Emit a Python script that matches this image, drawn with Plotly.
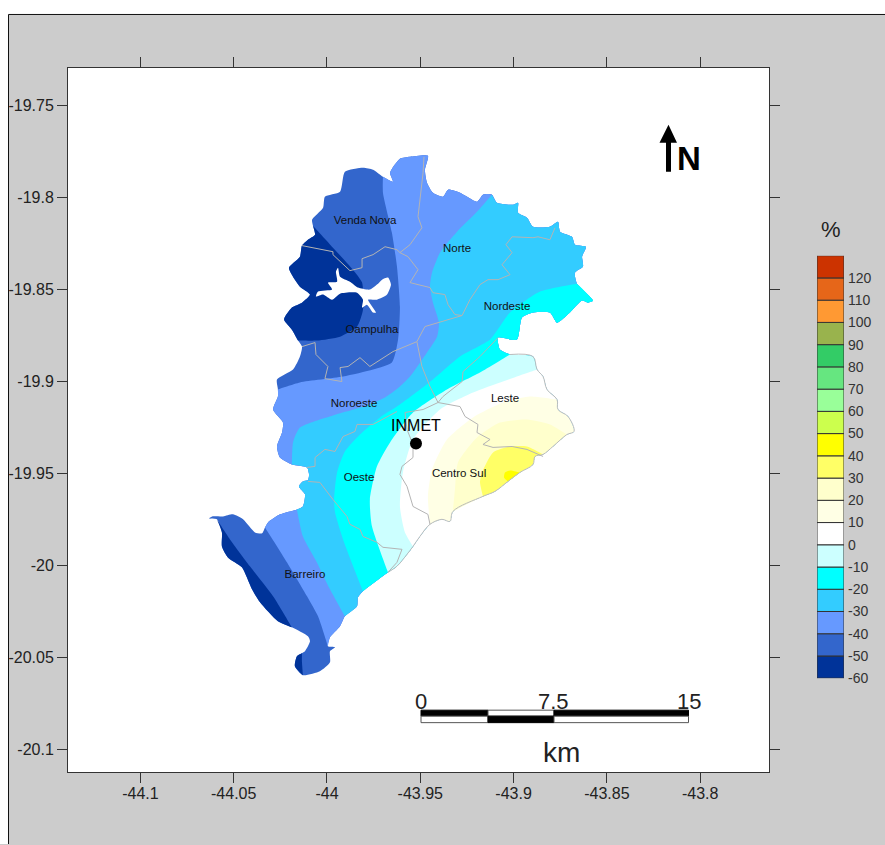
import plotly.graph_objects as go

W, H = 885, 845
LAYOUT_H = 852
FONT = "Liberation Sans"

outline = [
(-43.9904,-19.7861),(-43.9807,-19.7839),(-43.9753,-19.7850),(-43.9700,-19.7888),(-43.9646,-19.7915),(-43.9662,-19.7866),
(-43.9609,-19.7790),(-43.9555,-19.7779),(-43.9459,-19.7774),(-43.9475,-19.7850),(-43.9464,-19.7920),(-43.9432,-19.7975),
(-43.9378,-19.7996),(-43.9351,-19.7958),(-43.9287,-19.7975),(-43.9196,-19.8023),(-43.9164,-19.7985),(-43.9116,-19.7985),
(-43.9089,-19.8029),(-43.9003,-19.8040),(-43.8976,-19.8029),(-43.8976,-19.8083),(-43.8928,-19.8110),(-43.8896,-19.8159),
(-43.8805,-19.8159),(-43.8762,-19.8132),(-43.8751,-19.8186),(-43.8687,-19.8214),(-43.8671,-19.8257),(-43.8612,-19.8268),
(-43.8633,-19.8322),(-43.8628,-19.8376),(-43.8671,-19.8409),(-43.8660,-19.8469),(-43.8574,-19.8561),(-43.8601,-19.8572),
(-43.8633,-19.8561),(-43.8698,-19.8626),(-43.8767,-19.8681),(-43.8805,-19.8626),(-43.8896,-19.8626),(-43.8955,-19.8653),
(-43.8982,-19.8773),(-43.9083,-19.8762),(-43.9073,-19.8827),(-43.9019,-19.8854),(-43.8896,-19.8865),(-43.8874,-19.8936),
(-43.8842,-19.8974),(-43.8821,-19.9044),(-43.8767,-19.9099),(-43.8762,-19.9153),(-43.8708,-19.9191),(-43.8676,-19.9272),
(-43.8714,-19.9289),(-43.8789,-19.9354),(-43.8842,-19.9397),(-43.8885,-19.9408),(-43.8896,-19.9452),(-43.8966,-19.9495),
(-43.9030,-19.9544),(-43.9100,-19.9598),(-43.9164,-19.9625),(-43.9325,-19.9707),(-43.9341,-19.9761),(-43.9384,-19.9750),
(-43.9448,-19.9777),(-43.9502,-19.9843),(-43.9539,-19.9897),(-43.9571,-19.9940),(-43.9625,-20.0005),(-43.9673,-20.0038),
(-43.9807,-20.0141),(-43.9834,-20.0174),(-43.9839,-20.0223),(-43.9904,-20.0277),(-43.9930,-20.0331),(-43.9984,-20.0391),
(-43.9995,-20.0440),(-43.9957,-20.0445),(-43.9984,-20.0467),(-43.9984,-20.0527),(-44.0038,-20.0576),(-44.0129,-20.0597),
(-44.0172,-20.0548),(-44.0161,-20.0494),(-44.0134,-20.0478),(-44.0118,-20.0467),(-44.0091,-20.0413),(-44.0102,-20.0386),
(-44.0188,-20.0337),(-44.0263,-20.0304),(-44.0359,-20.0201),(-44.0402,-20.0130),(-44.0456,-20.0011),(-44.0531,-19.9957),
(-44.0563,-19.9897),(-44.0563,-19.9821),(-44.0590,-19.9750),(-44.0632,-19.9745),(-44.0616,-19.9734),(-44.0557,-19.9734),
(-44.0504,-19.9723),(-44.0450,-19.9750),(-44.0386,-19.9821),(-44.0348,-19.9826),(-44.0332,-19.9794),(-44.0316,-19.9767),
(-44.0252,-19.9723),(-44.0161,-19.9696),(-44.0129,-19.9680),(-44.0118,-19.9614),(-44.0150,-19.9571),(-44.0129,-19.9544),
(-44.0102,-19.9538),(-44.0096,-19.9506),(-44.0107,-19.9468),(-44.0188,-19.9452),(-44.0252,-19.9414),(-44.0268,-19.9354),
(-44.0241,-19.9278),(-44.0236,-19.9224),(-44.0289,-19.9153),(-44.0263,-19.9082),(-44.0263,-19.9044),(-44.0268,-19.8990),
(-44.0182,-19.8936),(-44.0145,-19.8865),(-44.0134,-19.8811),(-44.0155,-19.8778),(-44.0188,-19.8719),(-44.0230,-19.8664),
(-44.0188,-19.8599),(-44.0134,-19.8572),(-44.0091,-19.8528),(-44.0145,-19.8485),(-44.0172,-19.8447),(-44.0204,-19.8382),
(-44.0145,-19.8322),(-44.0134,-19.8262),(-44.0102,-19.8230),(-44.0064,-19.8203),(-44.0075,-19.8154),(-44.0080,-19.8121),
(-44.0021,-19.8056),(-44.0011,-19.7996),(-43.9930,-19.7969),
]

# Contour lines between percentage classes
dark_nw = [(-44.0075,-19.8154),(-43.9968,-19.8273),(-43.9861,-19.8393),(-43.9812,-19.8463),(-43.9807,-19.8610),(-43.9839,-19.8702),(-43.9930,-19.8757),(-44.0054,-19.8778),(-44.0155,-19.8778)]
dark_sw = [(-44.0590,-19.9750),(-44.0520,-19.9859),(-44.0413,-20.0005),(-44.0289,-20.0168),(-44.0236,-20.0255),(-44.0188,-20.0337)]
dark_s = [(-44.0134,-20.0478),(-44.0134,-20.0527),(-44.0129,-20.0597)]
c40_n = [(-43.9700,-19.7888),(-43.9700,-19.7975),(-43.9652,-19.8192),(-43.9625,-19.8376),(-43.9609,-19.8594),(-43.9619,-19.8773),(-43.9652,-19.8898),(-43.9753,-19.8936),(-43.9914,-19.8974),(-44.0145,-19.9006),(-44.0263,-19.9044)]
c40_s = [(-44.0332,-19.9794),(-44.0214,-19.9984),(-44.0107,-20.0168),(-44.0048,-20.0277),(-43.9995,-20.0440)]
c30_n = [(-43.9116,-19.7985),(-43.9196,-19.8078),(-43.9303,-19.8186),(-43.9394,-19.8300),(-43.9437,-19.8409),(-43.9448,-19.8485),(-43.9432,-19.8572),(-43.9400,-19.8681),(-43.9410,-19.8757),(-43.9464,-19.8843),(-43.9555,-19.8974),(-43.9609,-19.9028),(-43.9689,-19.9088),(-43.9786,-19.9131),(-43.9968,-19.9185),(-44.0145,-19.9251),(-44.0182,-19.9332),(-44.0188,-19.9452)]
c30_s = [(-44.0161,-19.9696),(-44.0129,-19.9843),(-44.0054,-19.9984),(-43.9984,-20.0130),(-43.9904,-20.0277)]
c20 = [(-43.8660,-19.8469),(-43.8858,-19.8512),(-43.9019,-19.8626),(-43.9126,-19.8773),(-43.9287,-19.8865),(-43.9432,-19.8990),(-43.9609,-19.9126),(-43.9716,-19.9196),(-43.9823,-19.9289),(-43.9904,-19.9381),(-43.9946,-19.9495),(-43.9962,-19.9642),(-43.9957,-19.9712),(-43.9914,-19.9859),(-43.9807,-20.0141)]
c10 = [(-43.9019,-19.8854),(-43.9180,-19.8952),(-43.9357,-19.9044),(-43.9539,-19.9169),(-43.9662,-19.9332),(-43.9732,-19.9462),(-43.9770,-19.9642),(-43.9759,-19.9788),(-43.9673,-20.0038)]
c0 = [(-43.8874,-19.8936),(-43.9057,-19.9001),(-43.9217,-19.9061),(-43.9394,-19.9153),(-43.9539,-19.9316),(-43.9593,-19.9495),(-43.9609,-19.9680),(-43.9582,-19.9821),(-43.9539,-19.9897)]
p10 = [(-43.8767,-19.9099),(-43.8912,-19.9082),(-43.9057,-19.9115),(-43.9217,-19.9196),(-43.9357,-19.9316),(-43.9437,-19.9479),(-43.9459,-19.9625),(-43.9448,-19.9777)]
p20 = [(-43.8714,-19.9289),(-43.8805,-19.9234),(-43.8928,-19.9207),(-43.9073,-19.9224),(-43.9196,-19.9305),(-43.9298,-19.9441),(-43.9314,-19.9587),(-43.9325,-19.9707)]
p30 = [(-43.8842,-19.9397),(-43.8928,-19.9354),(-43.9019,-19.9354),(-43.9110,-19.9386),(-43.9169,-19.9495),(-43.9180,-19.9549),(-43.9164,-19.9625)]
p40 = [(-43.8966,-19.9495),(-43.9019,-19.9484),(-43.9046,-19.9495),(-43.9051,-19.9522),(-43.9030,-19.9544)]

reservoir = [(-43.9941,-19.8382),(-43.9930,-19.8431),(-43.9877,-19.8458),(-43.9834,-19.8490),(-43.9770,-19.8501),(-43.9732,-19.8474),(-43.9705,-19.8447),(-43.9673,-19.8436),(-43.9657,-19.8474),(-43.9678,-19.8528),(-43.9732,-19.8556),(-43.9780,-19.8556),(-43.9737,-19.8626),(-43.9753,-19.8626),(-43.9786,-19.8583),(-43.9812,-19.8599),(-43.9807,-19.8556),(-43.9839,-19.8518),(-43.9930,-19.8523),(-43.9973,-19.8556),(-44.0021,-19.8528),(-44.0059,-19.8539),(-44.0048,-19.8512),(-43.9973,-19.8501),(-43.9995,-19.8463),(-43.9946,-19.8458),(-43.9952,-19.8404)]

# Regional boundaries
borders = [
 [(-44.0134,-19.8262),(-43.9968,-19.8295),(-43.9968,-19.8311),(-43.9877,-19.8398),(-43.9812,-19.8382),(-43.9812,-19.8333),(-43.9753,-19.8311),(-43.9689,-19.8268),(-43.9625,-19.8284),(-43.9609,-19.8300),(-43.9555,-19.8257),(-43.9491,-19.8165),(-43.9512,-19.8105),(-43.9485,-19.7866),(-43.9480,-19.7779)],
 [(-43.9609,-19.8300),(-43.9566,-19.8322),(-43.9512,-19.8393),(-43.9555,-19.8463),(-43.9512,-19.8474),(-43.9448,-19.8490),(-43.9432,-19.8518),(-43.9368,-19.8528),(-43.9351,-19.8583),(-43.9314,-19.8637),(-43.9276,-19.8642),(-43.9234,-19.8556),(-43.9180,-19.8474),(-43.9137,-19.8447),(-43.9083,-19.8447),(-43.9019,-19.8420),(-43.9062,-19.8366),(-43.9008,-19.8300),(-43.9041,-19.8257),(-43.9008,-19.8214),(-43.8896,-19.8219),(-43.8869,-19.8214),(-43.8805,-19.8230),(-43.8778,-19.8165)],
 [(-43.9276,-19.8642),(-43.9400,-19.8681),(-43.9475,-19.8702),(-43.9518,-19.8784),(-43.9609,-19.8822),(-43.9646,-19.8838),(-43.9770,-19.8919),(-43.9823,-19.8871),(-43.9887,-19.8919),(-43.9930,-19.8925),(-43.9920,-19.9001),(-44.0011,-19.8985),(-43.9995,-19.8919),(-44.0059,-19.8854),(-44.0064,-19.8789),(-44.0134,-19.8811)],
 [(-43.9518,-19.8784),(-43.9491,-19.8919),(-43.9448,-19.9028),(-43.9405,-19.9115)],
 [(-43.9083,-19.8762),(-43.9180,-19.8865),(-43.9271,-19.8947),(-43.9276,-19.9001),(-43.9378,-19.9082),(-43.9405,-19.9115)],
 [(-43.9405,-19.9115),(-43.9287,-19.9137),(-43.9260,-19.9191),(-43.9191,-19.9234),(-43.9196,-19.9278),(-43.9126,-19.9316),(-43.9164,-19.9343),(-43.9110,-19.9359),(-43.9008,-19.9354),(-43.8928,-19.9370),(-43.8842,-19.9408)],
 [(-43.9405,-19.9115),(-43.9485,-19.9153),(-43.9582,-19.9169),(-43.9571,-19.9262),(-43.9539,-19.9343),(-43.9539,-19.9414),(-43.9598,-19.9462),(-43.9609,-19.9506),(-43.9571,-19.9571),(-43.9539,-19.9680),(-43.9459,-19.9723),(-43.9448,-19.9777)],
 [(-43.9625,-19.9164),(-43.9753,-19.9234),(-43.9839,-19.9234),(-43.9850,-19.9272),(-43.9914,-19.9300),(-43.9957,-19.9381),(-44.0011,-19.9370),(-44.0064,-19.9414),(-44.0064,-19.9462),(-44.0107,-19.9468)],
 [(-44.0102,-19.9544),(-44.0038,-19.9549),(-43.9968,-19.9642),(-43.9893,-19.9734),(-43.9877,-19.9777),(-43.9823,-19.9805),(-43.9807,-19.9843),(-43.9732,-19.9875),(-43.9700,-19.9902),(-43.9598,-19.9913),(-43.9625,-19.9984),(-43.9673,-20.0038)],
]

region_names = ["Venda Nova", "Norte", "Nordeste", "Oampulha", "Noroeste", "Leste", "Oeste", "Centro Sul", "Barreiro"]
region_lon = [-43.9796, -43.9303, -43.9035, -43.9759, -43.9855, -43.9046, -43.9828, -43.9292, -44.0118]
region_lat = [-19.8127, -19.8279, -19.8594, -19.8719, -19.9126, -19.9099, -19.9528, -19.9506, -20.0054]
station_lon, station_lat = -43.9523, -19.9338

class_values = [-60,-50,-40,-30,-20,-10,0,10,20,30,40,50,60,70,80,90,100,110,120]
class_colors = ["#003399","#3366cc","#6699ff","#33ccff","#00ffff","#ccffff","#ffffff","#ffffe5","#ffffcc","#ffff66",
                "#ffff00","#ccff4d","#99ff99","#66e680","#33cc66","#99b34d","#ff9933","#e66619","#cc3300"]

lon_ticks = [-44.1,-44.05,-44,-43.95,-43.9,-43.85,-43.8]
lon_labels = ["-44.1","-44.05","-44","-43.95","-43.9","-43.85","-43.8"]
lat_ticks = [-19.75,-19.8,-19.85,-19.9,-19.95,-20,-20.05,-20.1]
lat_labels = ["-19.75","-19.8","-19.85","-19.9","-19.95","-20","-20.05","-20.1"]


def nearest(pt):
    return min(range(len(outline)), key=lambda i: (outline[i][0]-pt[0])**2 + (outline[i][1]-pt[1])**2)

def arc(a, b):
    i, j = nearest(a), nearest(b)
    if j >= i:
        return outline[i:j+1]
    return outline[i:] + outline[:j+1]

def rev(seq):
    return list(reversed(seq))

def fill(fig, pts, color):
    fig.add_trace(go.Scatter(x=[p[0] for p in pts]+[pts[0][0]], y=[p[1] for p in pts]+[pts[0][1]],
                             mode="lines", line=dict(width=0, color=color, shape="spline", smoothing=0.6),
                             fill="toself", fillcolor=color,
                             hoverinfo="skip", showlegend=False, xaxis="x", yaxis="y"))

def line(fig, pts, color, width, shape="linear"):
    fig.add_trace(go.Scatter(x=[p[0] for p in pts], y=[p[1] for p in pts], mode="lines",
                             line=dict(width=width, color=color, shape=shape), hoverinfo="skip", showlegend=False,
                             xaxis="x", yaxis="y"))

fig = go.Figure()
col = dict(zip(class_values, class_colors))
fill(fig, outline, col[-50])
fill(fig, arc(dark_nw[-1], dark_nw[0]) + dark_nw, col[-60])
fill(fig, arc(dark_sw[-1], dark_sw[0]) + dark_sw, col[-60])
fill(fig, arc(dark_s[-1], dark_s[0]) + dark_s, col[-60])
fill(fig, arc(c40_n[0], c40_s[-1]) + rev(c40_s) + arc(c40_s[0], c40_n[-1]) + rev(c40_n), col[-40])
fill(fig, arc(c30_n[0], c30_s[-1]) + rev(c30_s) + arc(c30_s[0], c30_n[-1]) + rev(c30_n), col[-30])
for contour, v in [(c20,-20),(c10,-10),(c0,0),(p10,10),(p20,20),(p30,30),(p40,40)]:
    fill(fig, arc(contour[0], contour[-1]) + rev(contour), col[v])
fill(fig, reservoir, "#ffffff")
line(fig, arc((-43.9019,-19.8854), (-43.9673,-20.0038)), "#bcbcbc", 1, "spline")
for b in borders:
    line(fig, b, "#b4b4b4", 1)

fig.add_trace(go.Scatter(x=region_lon, y=region_lat, mode="text", text=region_names, textposition="middle center",
                         textfont=dict(family=FONT, size=11.5, color="#111111"), hoverinfo="skip", showlegend=False,
                         xaxis="x", yaxis="y"))
fig.add_trace(go.Scatter(x=[station_lon], y=[station_lat], mode="markers+text", text=["INMET"], textposition="top center",
                         textfont=dict(family=FONT, size=16, color="#000000"),
                         marker=dict(size=12, color="#000000"), hoverinfo="skip", showlegend=False, xaxis="x", yaxis="y"))

# Legend built as a stacked column on its own axis
fig.add_trace(go.Bar(x=[0]*len(class_values), y=[10]*len(class_values), base=class_values, width=1,
                     marker=dict(color=class_colors, line=dict(color="#333333", width=1)),
                     hoverinfo="skip", showlegend=False, xaxis="x2", yaxis="y2"))

def fx(px):
    return px / W

def fy(py):
    return 1 - py / H

def rect(x0, y0, x1, y1, fc, lc=None, lw=1):
    return dict(type="rect", xref="paper", yref="paper", x0=fx(x0), x1=fx(x1), y0=fy(y0), y1=fy(y1),
                fillcolor=fc, line=dict(color=lc or fc, width=lw if lc else 0), layer="above")

def path(points, fc):
    d = "M " + " L ".join(f"{fx(x):.5f},{fy(y):.5f}" for x, y in points) + " Z"
    return dict(type="path", xref="paper", yref="paper", path=d, fillcolor=fc, line=dict(width=0), layer="above")

shapes = [
    rect(0, 0, W, 14, "#ffffff"),
    rect(0, 0, 9, H, "#ffffff"),
    dict(type="line", xref="paper", yref="paper", x0=fx(8.5), x1=fx(W), y0=fy(14.5), y1=fy(14.5), line=dict(color="#111111", width=1)),
    dict(type="line", xref="paper", yref="paper", x0=fx(8.5), x1=fx(8.5), y0=fy(14.5), y1=fy(H), line=dict(color="#111111", width=1)),
    # scale bar
    rect(421, 711, 488, 717, "#000000", "#000000"),
    rect(488, 711, 554, 717, "#ffffff", "#555555"),
    rect(554, 711, 688.5, 717, "#000000", "#000000"),
    rect(421, 717, 488, 723.5, "#ffffff", "#555555"),
    rect(488, 717, 554, 723.5, "#000000", "#000000"),
    rect(554, 717, 688.5, 723.5, "#ffffff", "#555555"),
    # north arrow
    path([(668.5,125),(677,143),(671,143),(671,172),(666,172),(666,143),(659.5,143)], "#000000"),
]

def note(text, x, y, size, color="#111111"):
    return dict(text=text, xref="paper", yref="paper", x=fx(x), y=fy(y), xanchor="center", yanchor="middle",
                showarrow=False, font=dict(family=FONT, size=size, color=color))

annotations = [
    note("%", 831, 230, 22, "#222222"),
    note("<b>N</b>", 688.5, 159, 33, "#000000"),
    note("0", 421, 702, 22, "#222222"),
    note("7.5", 553, 702, 22, "#222222"),
    note("15", 689, 702, 22, "#222222"),
    note("km", 561, 753, 28, "#222222"),
]

axis_font = dict(family=FONT, size=16, color="#222222")
common = dict(showgrid=False, zeroline=False, showline=True, linecolor="#333333", linewidth=1, mirror="ticks",
              ticks="outside", ticklen=10, tickwidth=1, tickcolor="#333333", tickfont=axis_font, tickmode="array")
fig.update_layout(
    width=W, height=LAYOUT_H, autosize=False, margin=dict(l=0, r=0, t=0, b=0),
    paper_bgcolor="#cccccc", plot_bgcolor="#ffffff", shapes=shapes, annotations=annotations,
    xaxis=dict(domain=[fx(68), fx(769)], range=[-44.1388, -43.7631], tickvals=lon_ticks, ticktext=lon_labels, anchor="y", ticklabelstandoff=-3, **common),
    yaxis=dict(domain=[fy(773), fy(68)], range=[-20.1124, -19.7296], tickvals=lat_ticks, ticktext=lat_labels, anchor="x", **common),
    xaxis2=dict(domain=[fx(817), fx(844)], range=[-0.5, 0.5], visible=False, anchor="y2"),
    yaxis2=dict(domain=[fy(679), fy(256)], range=[-60, 130], anchor="x2", side="right", showgrid=False, zeroline=False,
                showline=False, ticks="", tickmode="array", tickvals=class_values, ticktext=[str(v) for v in class_values],
                tickfont=dict(family=FONT, size=14, color="#333333"), ticklabelstandoff=3),
)

fig.write_html("out.html", config=dict(displayModeBar=False, responsive=False),
               post_script="document.body.style.margin='0';document.body.style.overflow='hidden';document.body.style.background='#cccccc';")
